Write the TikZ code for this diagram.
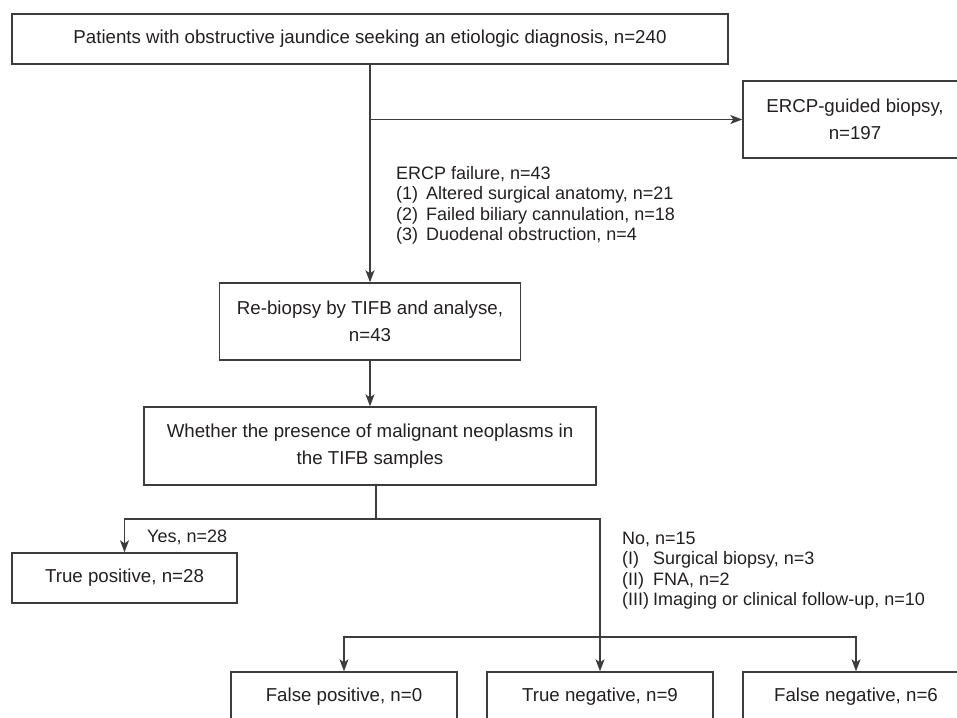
\documentclass[tikz,border=0pt]{standalone}
\usepackage{fontspec}
\setmainfont{Liberation Sans}
\usepackage{xcolor}
\usepackage{tikz}
\usetikzlibrary{arrows.meta, positioning}
\definecolor{linegray}{HTML}{3C3C3C}
\definecolor{textgray}{HTML}{231F20}

\begin{document}
\begin{tikzpicture}[x=1pt, y=-1pt, node distance=256pt, >={Stealth[length=12pt, width=9pt, inset=3pt]},
                box/.style={draw=linegray, line width=1.4pt, text=textgray, minimum height=50pt, inner sep=0pt, align=center, font=\fontsize{18.7}{27}\selectfont},
                note/.style={inner sep=0pt, anchor=north west, text=textgray, font=\fontsize{18}{20.5}\selectfont},
                lines/.style={draw=linegray, line width=1.4pt}]
                \useasboundingbox (0,0) rectangle (957,717);
                % Nodes
                \node[box, minimum width=716pt] (P) at (370,39) {Patients with obstructive jaundice seeking an etiologic diagnosis, n=240};
                \node[box, minimum width=224pt, minimum height=77pt] (E) at (855,119.5) {ERCP-guided biopsy,\\n=197};
                \node[box, minimum width=301pt, minimum height=77pt] (R) at (370,321.5) {Re-biopsy by TIFB and analyse,\\n=43};
                \node[box, minimum width=452pt, minimum height=78pt] (W) at (370,446) {Whether the presence of malignant neoplasms in\\the TIFB samples};
                \node[box, minimum width=225pt] (TP) at (124.5,578) {True positive, n=28};
                \node[box, minimum width=226pt] (FP) at (344,697) {False positive, n=0};
                \node[box, minimum width=226pt] (TN) [right of=FP] {True negative, n=9};
                \node[box, minimum width=226pt] (FN) [right of=TN] {False negative, n=6};

                % Labels
                \node[note] (F) at (396,164.5) {\begin{tabular}{@{}l@{}}
                    ERCP failure, n=43\\
                    \makebox[30pt][l]{(1)}Altered surgical anatomy, n=21\\
                    \makebox[30pt][l]{(2)}Failed biliary cannulation, n=18\\
                    \makebox[30pt][l]{(3)}Duodenal obstruction, n=4
                \end{tabular}};
                \node[note] (N) at (622,529.6) {\begin{tabular}{@{}l@{}}
                    No, n=15\\
                    \makebox[31pt][l]{(I)}Surgical biopsy, n=3\\
                    \makebox[31pt][l]{(II)}FNA, n=2\\
                    \makebox[31pt][l]{(III)}Imaging or clinical follow-up, n=10
                \end{tabular}};
                \node[note, anchor=base west] (Y) at (147,542) {Yes, n=28};

                % Branch points
                \coordinate (S1) at (P.south |- E.west);
                \coordinate (S2) at (376,519);
                \coordinate (S3) at (600,637);

                % Edges
                \draw[->, lines] (P) -- (R);
                \draw[->, lines] (S1) -- (E);
                \draw[->, lines] (R) -- (W);
                \draw[lines] (W.south -| S2) -- (S2);
                \draw[->, lines] (S2) -| (TP);
                \draw[->, lines] (S2) -| (TN);
                \draw[->, lines] (S3) -| (FP);
                \draw[->, lines] (S3) -| (FN);
            \end{tikzpicture}
\end{document}
